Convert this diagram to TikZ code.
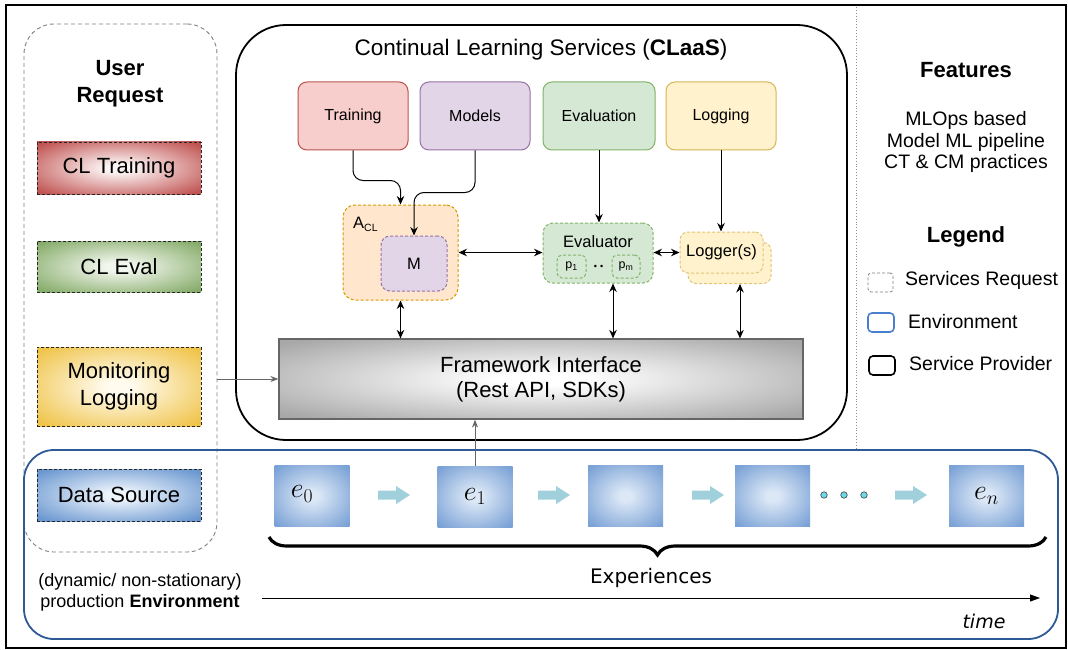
\RequirePackage{fix-cm}
\documentclass[tikz,border=0pt]{standalone}
\usepackage{fontspec}
\setmainfont{Liberation Sans}
\newfontfamily\dejavu{DejaVu Sans}[ItalicFont={DejaVu Sans Oblique}]
\usetikzlibrary{arrows.meta,decorations.pathreplacing,calc}
\newcommand\fsz[2]{\fontsize{#1pt}{#2pt}\selectfont}

\definecolor{trFill}{HTML}{F8CECC}\definecolor{trDraw}{HTML}{B85450}
\definecolor{mdFill}{HTML}{E1D5E7}\definecolor{mdDraw}{HTML}{9673A6}
\definecolor{evFill}{HTML}{D5E8D4}\definecolor{evDraw}{HTML}{82B366}
\definecolor{lgFill}{HTML}{FFF2CC}\definecolor{lgDraw}{HTML}{D6B656}
\definecolor{aclFill}{HTML}{FFE6CC}\definecolor{aclDraw}{HTML}{D79B00}
\definecolor{envBlue}{HTML}{2E5A96}
\definecolor{legBlue}{HTML}{4A7FD0}
\definecolor{blockC}{HTML}{A0D0DC}
\definecolor{dotC}{HTML}{6CD8E8}
\definecolor{shTrI}{HTML}{FCF4F4}\definecolor{shTrO}{HTML}{C05452}
\definecolor{shEvI}{HTML}{F2F7EE}\definecolor{shEvO}{HTML}{86AC6A}
\definecolor{shMoI}{HTML}{FFFBEE}\definecolor{shMoO}{HTML}{F0C44A}
\definecolor{shDsI}{HTML}{EDF4FC}\definecolor{shDsO}{HTML}{6A97D0}
\definecolor{shExI}{HTML}{DCE8F6}\definecolor{shExO}{HTML}{7BA2D6}
\definecolor{shFiI}{HTML}{FFFFFF}\definecolor{shFiO}{HTML}{A8A8A8}

\newcommand\mkshade[3]{\pgfdeclareradialshading{#1}{\pgfpointorigin}{color(0bp)=(#2); color(4bp)=(#2); color(33bp)=(#3); color(50bp)=(#3)}}
\mkshade{shTrain}{shTrI}{shTrO}
\mkshade{shEval}{shEvI}{shEvO}
\mkshade{shMon}{shMoI}{shMoO}
\mkshade{shData}{shDsI}{shDsO}
\mkshade{shExp}{shExI}{shExO}
\mkshade{shFI}{shFiI}{shFiO}

\tikzset{
  req/.style={draw=black!85, dashed, dash pattern=on 3pt off 2pt, line width=0.9pt,
    minimum width=164pt, minimum height=52pt, inner sep=0pt, align=center, font=\fsz{22}{27}},
  svc/.style={rounded corners=9pt, line width=1pt, minimum width=110pt, minimum height=68pt,
    inner sep=0pt, font=\fsz{16}{19}},
  dbox/.style={dashed, dash pattern=on 3pt off 2pt, line width=1pt, inner sep=0pt},
  exsq/.style={shading=shExp, minimum width=75pt, minimum height=61pt, inner sep=0pt},
  conn/.style={draw=black, line width=1pt},
  gconn/.style={draw=black!60, line width=1pt},
  lt/.style={anchor=west, inner sep=0pt, font=\fsz{19.5}{23}},
}

\begin{document}
\begin{tikzpicture}[x=1pt,y=-1pt,
  >={Stealth[length=8.5pt,width=7.5pt]}]
\fill[white] (0,0) rectangle (1068,650);
\useasboundingbox (0,0) rectangle (1068,650);

% outer frame
\node[draw, line width=1.6pt, minimum width=1060pt, minimum height=643pt, inner sep=0pt] (frame) at (536,326.5) {};

% user request group
\node[draw=black!50, dashed, dash pattern=on 4pt off 3pt, line width=0.9pt, rounded corners=30pt,
  minimum width=193pt, minimum height=528pt, inner sep=0pt] (ureq) at (120.5,288) {};
\node[font=\bfseries\fsz{22}{27}, align=center] (urtitle) at (120,84) {User\\Request};
\node[req, shading=shTrain] (cltr) at (119,168) {CL Training};
\node[req, shading=shEval, minimum height=51pt] (clev) at (119,266.5) {CL Eval};
\node[req, shading=shMon, minimum height=79pt] (mon) at (119,386.5) {Monitoring\\Logging};
\node[req, shading=shData] (dsrc) at (119,495) {Data Source};

% environment
\node[draw=envBlue, line width=1.8pt, rounded corners=30pt, minimum width=1034pt,
  minimum height=189pt, inner sep=0pt] (env) at (541,544.5) {};
\node[font=\fsz{18}{21}, align=center] (envlbl) at (140,592) {(dynamic/ non-stationary)\\production \textbf{Environment}};

% CLaaS
\node[draw, line width=1.8pt, rounded corners=50pt, minimum width=611pt, minimum height=415pt,
  inner sep=0pt] (claas) at (541.5,232.5) {};
\node[font=\fsz{22.5}{26}] (ctitle) at (541,50) {Continual Learning Services (\textbf{CLaaS})};

\node[svc, fill=trFill, draw=trDraw] (train) at (353,116) {Training};
\node[svc, fill=mdFill, draw=mdDraw] (models) at (475,116) {Models};
\node[svc, fill=evFill, draw=evDraw, minimum width=112pt] (evaln) at (599,116) {Evaluation};
\node[svc, fill=lgFill, draw=lgDraw] (logn) at (721,116) {Logging};

% A_CL and M
\node[dbox, fill=aclFill, draw=aclDraw, minimum width=115pt, minimum height=95pt, rounded corners=12pt] (acl) at (400.5,252.5) {};
\node[anchor=west, inner sep=0pt, font=\fsz{16.5}{19}] (acllbl) at (353,224) {A\raisebox{-3pt}{\fsz{10.5}{12}CL}};
\node[dbox, fill=mdFill, draw=mdDraw, minimum width=66pt, minimum height=55pt, rounded corners=9pt, font=\fsz{16.5}{19}] (mm) at (414,263.5) {M};

% Evaluator
\node[dbox, fill=evFill, draw=evDraw, minimum width=110pt, minimum height=60pt, rounded corners=10pt] (evtor) at (598,253) {};
\node[font=\fsz{16.5}{19}, inner sep=0pt] (evtorlbl) at (598,242) {Evaluator};
\node[dbox, fill=evFill, draw=evDraw, minimum width=29pt, minimum height=23pt, rounded corners=5pt, font=\fsz{12.5}{14}] (p1) at (571.5,266.5) {p\textsubscript{1}};
\node[dbox, fill=evFill, draw=evDraw, minimum width=28pt, minimum height=23pt, rounded corners=5pt, font=\fsz{12.5}{14}] (pm) at (626,266.5) {p\textsubscript{m}};
\node[font=\fsz{9}{10}, inner sep=0pt] (pdots) at (598.5,267) {\textbullet\hspace{3pt}\textbullet};

% Loggers
\node[dbox, fill=lgFill, draw=lgDraw!80, minimum width=83pt, minimum height=41pt, rounded corners=8pt] (logb) at (729.5,263) {};
\node[dbox, fill=lgFill, draw=lgDraw!80, minimum width=83pt, minimum height=41pt, rounded corners=8pt, font=\fsz{16.5}{19}] (logf) at (721.5,252.5) {Logger(s)};

% Framework interface
\node[draw=black!60, line width=1.2pt, shading=shFI, minimum width=524pt, minimum height=80pt,
  inner sep=0pt, align=center, font=\fsz{22}{25}] (fi) at (541,379) {Framework Interface\\(Rest API, SDKs)};

% connectors inside CLaaS
\draw[conn,->,rounded corners=10pt] (train.south) -- ++(0,30) -| (acl.north);
\draw[conn,->,rounded corners=10pt] (models.south) -- ++(0,42) -| (mm.north);
\draw[conn,->] (evaln.south) -- (evaln.south |- evtor.north);
\draw[conn,->] (logn.south) -- (logn.south |- logf.north);
\draw[conn,<->] (acl.east) -- (acl.east -| evtor.west);
\draw[conn,<->] (evtor.east |- logf.west) -- (logf.west);
\draw[conn,<->] (acl.south) -- (acl.south |- fi.north);
\draw[conn,<->] ([xshift=15pt]evtor.south) -- ([xshift=15pt]evtor.south |- fi.north);
\draw[conn,<->] ([xshift=10.5pt]logb.south) -- ([xshift=10.5pt]logb.south |- fi.north);

% experiences
\node[exsq] (e0) at (312,496) {};
\node[font=\fsz{28}{32}, inner sep=0pt] (e0l) at (302,494) {$e_0$};
\node[exsq, font=\fsz{28}{32}] (e1) at (475,496.5) {$e_1$};
\node[exsq] (e2) at (625.5,496) {};
\node[exsq] (e3) at (772.5,496) {};
\node[exsq, font=\fsz{28}{32}] (en) at (986.5,496) {$e_n$};
\foreach \ax in {394,554,708,911}{
  \fill[blockC] (\ax-16,490.5) -- (\ax+2,490.5) -- (\ax+2,486) -- (\ax+16,495) -- (\ax+2,504) -- (\ax+2,499.5) -- (\ax-16,499.5) -- cycle;
}
\foreach \cx [count=\i] in {824,844,864}{
  \node[circle, draw=black!75, fill=dotC, minimum size=6.5pt, inner sep=0pt, line width=0.6pt] (dot\i) at (\cx,495) {};
}
\coordinate (bl) at (269,537);
\coordinate (br) at (1046,537);
\draw[decorate, decoration={brace, mirror, amplitude=18pt}, line width=3.2pt] (bl) -- (br);
\node[font=\dejavu\fsz{20}{24}] (exps) at (651,578) {Experiences};
\coordinate (t0) at (262,598);
\coordinate (t1) at (1040,598);
\draw[-{Triangle[length=10pt,width=7pt]}, line width=0.9pt] (t0) -- (t1);
\node[font=\dejavu\itshape\fsz{19}{23}] (timel) at (984,621) {time};

% gray arrows
\draw[gconn,-{Stealth[length=8pt,width=6pt]}] (fi.west -| ureq.east) -- (fi.west);
\draw[gconn,-{Stealth[length=8pt,width=6pt]}] (e1.north) -- (e1.north |- fi.south);

% right side
\coordinate (dtop) at (856,7);
\coordinate (dbot) at (856,450);
\draw[black!45, dotted, line width=0.9pt] (dtop) -- (dbot);
\node[font=\bfseries\fsz{22}{26}] (feat) at (966,70) {Features};
\node[font=\fsz{19.5}{21.5}, align=center] (featl) at (966,142) {MLOps based\\Model ML pipeline\\CT \& CM practices};
\node[font=\bfseries\fsz{22}{26}] (leg) at (966,237) {Legend};
\node[draw=black!50, dashed, dash pattern=on 3pt off 2pt, rounded corners=3pt, minimum width=25pt, minimum height=19pt, inner sep=0pt, line width=0.8pt] (lg1) at (880.5,282.5) {};
\node[lt] (lg1t) at (905,280) {Services Request};
\node[draw=legBlue, rounded corners=4pt, minimum width=26pt, minimum height=19pt, inner sep=0pt, line width=1.6pt] (lg2) at (881,322.5) {};
\node[lt] (lg2t) at (908,322) {Environment};
\node[draw=black, rounded corners=4pt, minimum width=26pt, minimum height=19pt, inner sep=0pt, line width=1.6pt] (lg3) at (882,365.5) {};
\node[lt] (lg3t) at (909,364) {Service Provider};
\end{tikzpicture}
\end{document}
